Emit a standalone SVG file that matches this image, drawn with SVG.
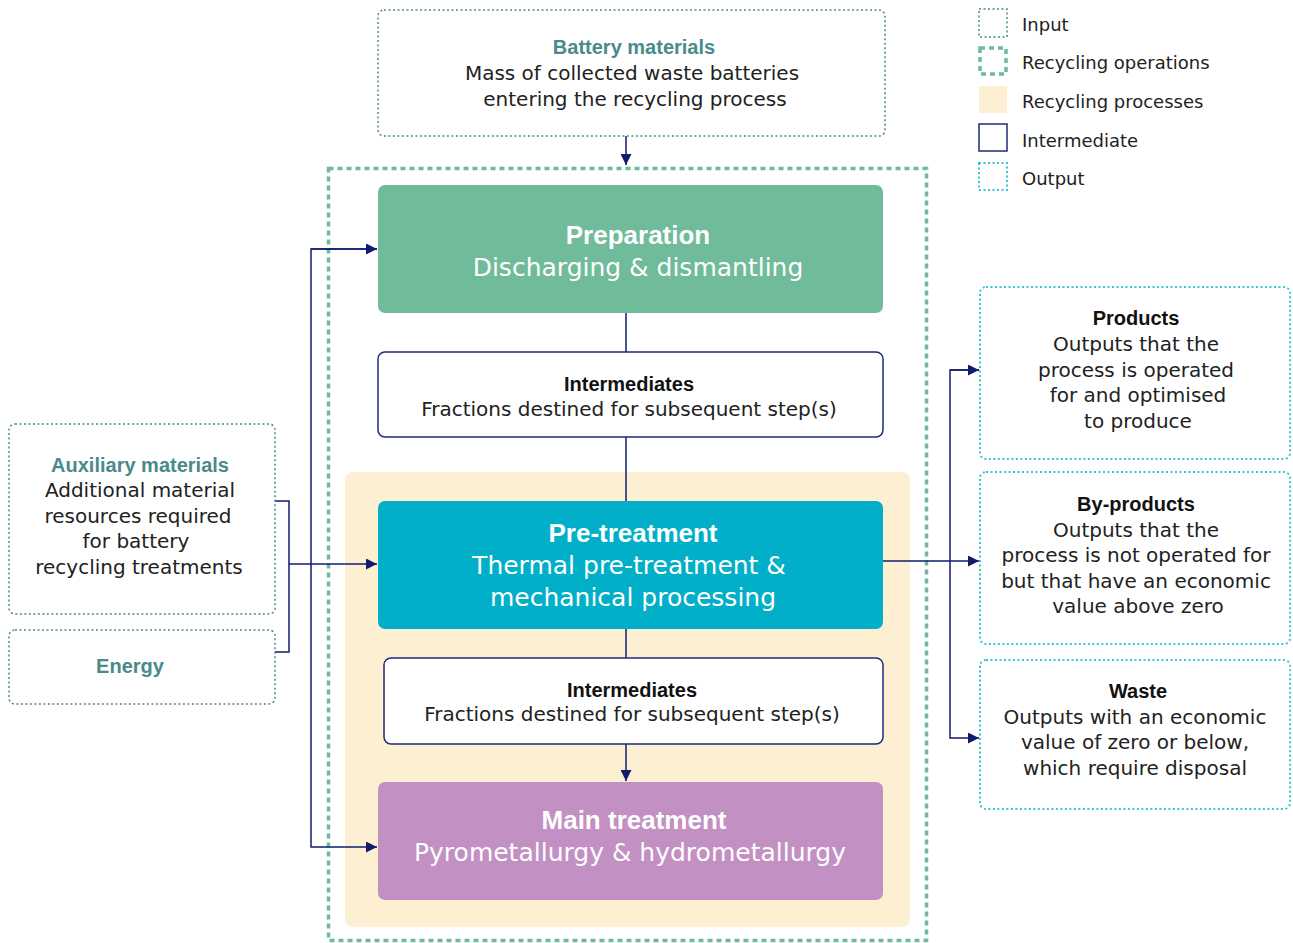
<svg xmlns="http://www.w3.org/2000/svg" width="1293" height="943" viewBox="0 0 1293 943">
<defs>
<marker id="ah" viewBox="0 0 10 10" refX="10" refY="5" markerWidth="11" markerHeight="11" markerUnits="userSpaceOnUse" orient="auto">
<path d="M0,0 L10,5 L0,10 z" fill="#101c6e"/>
</marker>
<style>
text{font-family:"Liberation Sans",Arial,sans-serif;text-anchor:middle;}
.in{fill:#fff;stroke:#4a8a8a;stroke-width:1.5;stroke-dasharray:2 2.5;}
.out{fill:#fff;stroke:#3cc4d6;stroke-width:2;stroke-dasharray:2 2.5;}
.ops{fill:none;stroke:#6dbb98;stroke-width:3.5;stroke-dasharray:5 4;}
.mid{fill:#fff;stroke:#1f2a78;stroke-width:1.5;}
.t{fill:#4a8a8a;font-weight:bold;font-size:20px;}
.b{fill:#111;font-weight:bold;font-size:20px;}
.n{fill:#222;font-size:20px;font-family:"DejaVu Sans",sans-serif;}
.wt{fill:#fff;font-weight:bold;font-size:26px;}
.wn{fill:#fff;font-size:25px;font-family:"DejaVu Sans",sans-serif;}
.lg{fill:#222;font-size:18px;text-anchor:start;font-family:"DejaVu Sans",sans-serif;}
.c{fill:none;stroke:#101c6e;stroke-width:1.5;}
</style>
</defs>

<g id="legend">
<rect class="in" x="979" y="9" width="28" height="28"/>
<text class="lg" x="1022" y="31">Input</text>
<rect class="ops" x="980" y="48" width="26" height="26"/>
<text class="lg" x="1022" y="69">Recycling operations</text>
<rect x="979" y="86" width="28" height="27" fill="#fdf0d2"/>
<text class="lg" x="1022" y="108">Recycling processes</text>
<rect x="979" y="124" width="28" height="27" fill="#fff" stroke="#1f2a78" stroke-width="1.5"/>
<text class="lg" x="1022" y="147">Intermediate</text>
<rect class="out" x="979" y="163" width="28" height="27"/>
<text class="lg" x="1022" y="185">Output</text>
</g>

<g id="recycling-operations">
<rect class="ops" x="328.5" y="168.5" width="598" height="772"/>
</g>
<g id="recycling-processes">
<rect x="345" y="472" width="565" height="455" rx="8" fill="#fdf0d2"/>
</g>

<g id="connectors">
<line class="c" x1="626" y1="136" x2="626" y2="165" marker-end="url(#ah)"/>
<line class="c" x1="626" y1="313" x2="626" y2="352"/>
<line class="c" x1="626" y1="437" x2="626" y2="501"/>
<line class="c" x1="626" y1="629" x2="626" y2="658"/>
<line class="c" x1="626" y1="744" x2="626" y2="781" marker-end="url(#ah)"/>
<path class="c" d="M377,249 H311 V847 H377" marker-end="url(#ah)"/>
<line class="c" x1="311" y1="249" x2="377" y2="249" marker-end="url(#ah)"/>
<path class="c" d="M275,501 H289 V652 H275"/>
<line class="c" x1="289" y1="564" x2="377" y2="564" marker-end="url(#ah)"/>
<line class="c" x1="883" y1="561" x2="979" y2="561" marker-end="url(#ah)"/>
<path class="c" d="M979,370 H950 V738 H979" marker-end="url(#ah)"/>
<line class="c" x1="950" y1="370" x2="979" y2="370" marker-end="url(#ah)"/>
</g>

<g id="battery-materials">
<rect class="in" x="378" y="10" width="507" height="126" rx="6"/>
<text class="t" x="634" y="54">Battery materials</text>
<text class="n" x="632" y="80">Mass of collected waste batteries</text>
<text class="n" x="635" y="106">entering the recycling process</text>
</g>

<g id="preparation">
<rect x="378" y="185" width="505" height="128" rx="7" fill="#70bb9a"/>
<text class="wt" x="638" y="244">Preparation</text>
<text class="wn" x="638" y="276">Discharging &amp; dismantling</text>
</g>

<g id="intermediates-1">
<rect class="mid" x="378" y="352" width="505" height="85" rx="7"/>
<text class="b" x="629" y="391">Intermediates</text>
<text class="n" x="629" y="416">Fractions destined for subsequent step(s)</text>
</g>

<g id="pre-treatment">
<rect x="378" y="501" width="505" height="128" rx="7" fill="#02afc8"/>
<text class="wt" x="633" y="542">Pre-treatment</text>
<text class="wn" x="629" y="574">Thermal pre-treatment &amp;</text>
<text class="wn" x="633" y="606">mechanical processing</text>
</g>

<g id="intermediates-2">
<rect class="mid" x="384" y="658" width="499" height="86" rx="7"/>
<text class="b" x="632" y="697">Intermediates</text>
<text class="n" x="632" y="721">Fractions destined for subsequent step(s)</text>
</g>

<g id="main-treatment">
<rect x="378" y="782" width="505" height="118" rx="7" fill="#c290c2"/>
<text class="wt" x="634" y="829">Main treatment</text>
<text class="wn" x="630" y="861">Pyrometallurgy &amp; hydrometallurgy</text>
</g>

<g id="auxiliary-materials">
<rect class="in" x="9" y="424" width="266" height="190" rx="6"/>
<text class="t" x="140" y="472">Auxiliary materials</text>
<text class="n" x="140" y="497">Additional material</text>
<text class="n" x="138" y="523">resources required</text>
<text class="n" x="136" y="548">for battery</text>
<text class="n" x="139" y="574">recycling treatments</text>
</g>

<g id="energy">
<rect class="in" x="9" y="630" width="266" height="74" rx="6"/>
<text class="t" x="130" y="673">Energy</text>
</g>

<g id="products">
<rect class="out" x="980" y="287" width="310" height="172" rx="6"/>
<text class="b" x="1136" y="325">Products</text>
<text class="n" x="1136" y="351">Outputs that the</text>
<text class="n" x="1136" y="377">process is operated</text>
<text class="n" x="1138" y="402">for and optimised</text>
<text class="n" x="1138" y="428">to produce</text>
</g>

<g id="by-products">
<rect class="out" x="980" y="472" width="310" height="172" rx="6"/>
<text class="b" x="1136" y="511">By-products</text>
<text class="n" x="1136" y="537">Outputs that the</text>
<text class="n" x="1136" y="562">process is not operated for</text>
<text class="n" x="1136" y="588">but that have an economic</text>
<text class="n" x="1138" y="613">value above zero</text>
</g>

<g id="waste">
<rect class="out" x="980" y="660" width="310" height="149" rx="6"/>
<text class="b" x="1138" y="698">Waste</text>
<text class="n" x="1135" y="724">Outputs with an economic</text>
<text class="n" x="1135" y="749">value of zero or below,</text>
<text class="n" x="1135" y="775">which require disposal</text>
</g>
</svg>
